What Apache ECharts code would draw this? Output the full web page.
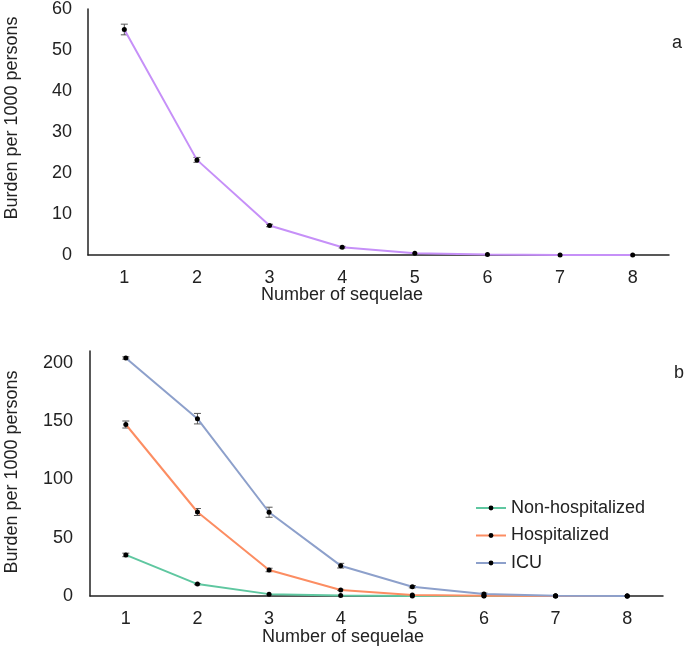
<!DOCTYPE html>
<html>
<head>
<meta charset="utf-8">
<script src="https://cdn.jsdelivr.net/npm/echarts@6/dist/echarts.min.js"></script>
<style>
  html, body { margin: 0; padding: 0; background: #fff; }
  #chart { width: 685px; height: 648px; }
</style>
</head>
<body>
<div id="chart"></div>
<script>
// categories (number of sequelae)
const sequelae = ['1', '2', '3', '4', '5', '6', '7', '8']

// panel a: overall burden
const overall = [55.0, 23.2, 7.2, 1.9, 0.4, 0.1, 0.02, 0]
const overallErr = [1.3, 0.6, 0.3, 0.2, 0.1, 0, 0, 0]

// panel b: by care setting
const nonHosp = [35.2, 10.2, 1.6, 0.4, 0.1, 0, 0, 0]
const nonHospErr = [1.5, 0.5, 0.3, 0.1, 0, 0, 0, 0]
const hosp = [147, 72, 22.3, 5.2, 0.9, 0.2, 0, 0]
const hospErr = [3, 3, 1.5, 0.5, 0.3, 0.1, 0, 0]
const icu = [204, 152, 71.8, 26, 8, 1.7, 0.3, 0]
const icuErr = [1, 4.5, 4.3, 2, 1, 0.8, 0, 0]

const seriesNames = ['Non-hospitalized', 'Hospitalized', 'ICU']
const colors = { a: '#c690f8', nonHosp: '#5fc7a0', hosp: '#fc8d62', icu: '#8da0cb' }

const font = 'Liberation Sans, Arial, sans-serif'

function errData(vals, errs) {
  return vals.map((v, i) => [i, v - errs[i], v + errs[i]])
}

function errBars(axisIndex, vals, errs) {
  return {
    type: 'custom',
    xAxisIndex: axisIndex,
    yAxisIndex: axisIndex,
    z: 1,
    silent: true,
    data: errData(vals, errs),
    renderItem: function (params, api) {
      const x = api.value(0)
      const lo = api.coord([x, api.value(1)])
      const hi = api.coord([x, api.value(2)])
      if (Math.abs(hi[1] - lo[1]) < 1) return
      const w = 3.5
      const style = { stroke: '#555', lineWidth: 1 }
      return {
        type: 'group',
        children: [
          { type: 'line', shape: { x1: lo[0], y1: lo[1], x2: hi[0], y2: hi[1] }, style: style },
          { type: 'line', shape: { x1: lo[0] - w, y1: lo[1], x2: lo[0] + w, y2: lo[1] }, style: style },
          { type: 'line', shape: { x1: hi[0] - w, y1: hi[1], x2: hi[0] + w, y2: hi[1] }, style: style }
        ]
      }
    }
  }
}

function lineSeries(name, axisIndex, vals, color) {
  return {
    name: name,
    type: 'line',
    xAxisIndex: axisIndex,
    yAxisIndex: axisIndex,
    data: vals,
    z: 3,
    symbol: 'circle',
    symbolSize: 5,
    itemStyle: { color: '#000' },
    lineStyle: { color: color, width: 2 },
    emphasis: { disabled: true }
  }
}

const axisLineStyle = { show: true, lineStyle: { color: '#222', width: 1.5 } }

function xAxis(gridIndex) {
  return {
    type: 'category',
    gridIndex: gridIndex,
    data: sequelae,
    boundaryGap: true,
    axisLine: axisLineStyle,
    axisTick: { show: false },
    axisLabel: { color: '#222', fontSize: 18, fontFamily: font, margin: 14 }
  }
}

function yAxis(gridIndex, max, interval, margin) {
  return {
    type: 'value',
    gridIndex: gridIndex,
    min: 0,
    max: max,
    interval: interval,
    axisLine: axisLineStyle,
    axisTick: { show: false },
    splitLine: { show: false },
    axisLabel: {
      color: '#222', fontSize: 18, fontFamily: font, margin: margin,
      formatter: v => (v % interval === 0 ? String(v) : '')
    }
  }
}

function text(str, x, y, rotate) {
  return {
    type: 'text',
    x: x, y: y,
    rotation: rotate ? Math.PI / 2 : 0,
    style: {
      text: str, fill: '#222', fontSize: 18, fontFamily: font,
      align: 'center', verticalAlign: 'middle'
    }
  }
}

const chart = echarts.init(document.getElementById('chart'))
chart.setOption({
  animation: false,
  backgroundColor: '#fff',
  grid: [
    { left: 88, top: 8, width: 581, height: 247 },
    { left: 90, top: 351, width: 573, height: 245 }
  ],
  xAxis: [xAxis(0), xAxis(1)],
  yAxis: [yAxis(0, 60, 10, 16), yAxis(1, 210, 50, 17)],
  legend: {
    data: seriesNames,
    orient: 'vertical',
    left: 475,
    top: 499,
    itemWidth: 30,
    itemHeight: 6,
    itemGap: 9.5,
    padding: 0,
    textStyle: { color: '#222', fontSize: 18, fontFamily: font }
  },
  graphic: [
    text('Burden per 1000 persons', 12, 118, true),
    text('Burden per 1000 persons', 12, 472, true),
    text('Number of sequelae', 342, 295, false),
    text('Number of sequelae', 343, 637, false),
    text('a', 677, 43, false),
    text('b', 679, 373, false)
  ],
  series: [
    errBars(0, overall, overallErr),
    lineSeries('Overall', 0, overall, colors.a),
    errBars(1, nonHosp, nonHospErr),
    errBars(1, hosp, hospErr),
    errBars(1, icu, icuErr),
    lineSeries(seriesNames[0], 1, nonHosp, colors.nonHosp),
    lineSeries(seriesNames[1], 1, hosp, colors.hosp),
    lineSeries(seriesNames[2], 1, icu, colors.icu)
  ]
})
</script>
</body>
</html>
